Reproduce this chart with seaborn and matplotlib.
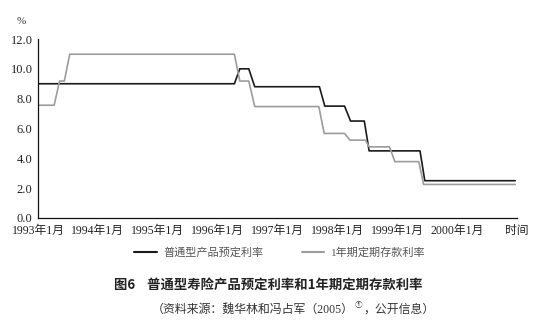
import matplotlib
matplotlib.use("Agg")
import matplotlib.pyplot as plt
import seaborn as sns
import pandas as pd
from matplotlib.lines import Line2D

# ---- data (decimal years, rate %) ----
insurance_x = [1993.0, 1996.28, 1996.37, 1996.52, 1996.62, 1997.70, 1997.79, 1998.12, 1998.22,
               1998.45, 1998.53, 1999.38, 1999.46, 2000.97]
insurance_y = [9.0, 9.0, 10.0, 10.0, 8.8, 8.8, 7.5, 7.5, 6.5, 6.5, 4.5, 4.5, 2.5, 2.5]

deposit_x = [1993.0, 1993.27, 1993.36, 1993.44, 1993.53, 1996.28, 1996.37, 1996.52, 1996.62,
             1997.69, 1997.78, 1998.12, 1998.21, 1998.47, 1998.53, 1998.87, 1998.96, 1999.36,
             1999.44, 2000.97]
deposit_y = [7.56, 7.56, 9.18, 9.18, 10.98, 10.98, 9.18, 9.18, 7.47, 7.47, 5.67, 5.67, 5.22,
             5.22, 4.77, 4.77, 3.78, 3.78, 2.25, 2.25]

series_names = ["普通型产品预定利率", "1年期定期存款利率"]
tick_years = [1993, 1994, 1995, 1996, 1997, 1998, 1999, 2000, 2001]
tick_labels = ["1993年1月", "1994年1月", "1995年1月", "1996年1月", "1997年1月",
               "1998年1月", "1999年1月", "2000年1月", "时间"]
y_ticks = [0, 2, 4, 6, 8, 10, 12]

title = "图6    普通型寿险产品预定利率和1年期定期存款利率"
subtitle_parts = ["（资料来源：魏华林和冯占军（2005）", "①", "，公开信息）"]

df = pd.concat([
    pd.DataFrame({"x": insurance_x, "y": insurance_y, "s": series_names[0]}),
    pd.DataFrame({"x": deposit_x, "y": deposit_y, "s": series_names[1]}),
])

sns.set_style("white")
SERIF = ["Liberation Serif", "Noto Sans CJK SC"]
plt.rcParams["font.family"] = SERIF

fig = plt.figure(figsize=(5.34, 3.29), dpi=100)
ax = fig.add_axes([38 / 534, 1 - 218 / 329, (517 - 38) / 534, (218 - 39) / 329])

sns.lineplot(data=df, x="x", y="y", hue="s",
             palette={series_names[0]: "#1a1a1a", series_names[1]: "#9c9c9c"},
             estimator=None, sort=False, linewidth=1.2, ax=ax, legend=False)

ax.set_xlim(1993, 2001)
ax.set_ylim(0, 12)
ax.set_xticks(tick_years)
ax.set_xticklabels(tick_labels, fontsize=8.5, family=SERIF)
ax.set_yticks(y_ticks)
ax.set_yticklabels([f"{v:.1f}" for v in y_ticks], fontsize=9, family=SERIF)
ax.set_xlabel("")
ax.set_ylabel("")
for s in ["top", "right"]:
    ax.spines[s].set_visible(False)
for s in ["left", "bottom"]:
    ax.spines[s].set_color("#111111")
    ax.spines[s].set_linewidth(0.9)
ax.tick_params(axis="both", direction="in", length=4, width=0.9, color="#111111",
               colors="#222222")
ax.tick_params(axis="y", pad=4)
ax.tick_params(axis="x", pad=5)
ax.grid(False)

fig.text(21 / 534, 1 - 22 / 329, "%", fontsize=8, ha="center", va="center",
         color="#333333", family=SERIF)

handles = [Line2D([], [], color="#1a1a1a", lw=1.5), Line2D([], [], color="#9c9c9c", lw=1.5)]
fig.legend(handles, series_names, loc="center", bbox_to_anchor=(280 / 534, 1 - 253 / 329),
           ncol=2, frameon=False, handlelength=2.0, columnspacing=3.5,
           handletextpad=0.6, labelcolor="#555555",
           prop={"family": SERIF, "size": 8})

fig.text(268 / 534, 1 - 285 / 329, title, fontsize=9.6, fontweight="bold", ha="center",
         va="center", color="#222222", family=["Noto Sans CJK SC", "DejaVu Sans"])

t1 = fig.text(152 / 534, 1 - 310 / 329, subtitle_parts[0], fontsize=8.6, ha="left",
              va="center", color="#333333", family=SERIF)
t2 = fig.text(0, 0, subtitle_parts[1], fontsize=5.5, ha="left", va="bottom",
              color="#333333", family=["Noto Sans CJK SC", "DejaVu Sans"])
t3 = fig.text(0, 0, subtitle_parts[2], fontsize=8.6, ha="left", va="center",
              color="#333333", family=SERIF)
fig.canvas.draw()
r = fig.canvas.get_renderer()
b1 = t1.get_window_extent(r)
W, H = fig.bbox.width, fig.bbox.height
t2.set_position(((b1.x1 + 1) / W, (b1.y0 + b1.height * 0.55) / H))
b2 = t2.get_window_extent(r)
t3.set_position(((b2.x1 + 1) / W, 1 - 310 / 329))

fig.savefig("out.png", dpi=100)
